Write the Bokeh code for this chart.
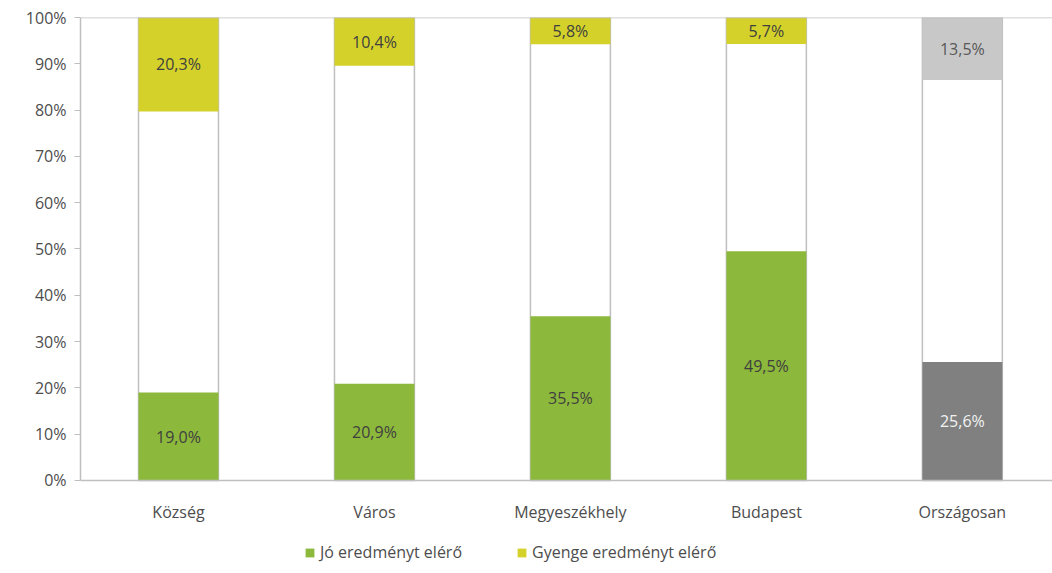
from bokeh.plotting import figure
from bokeh.models import ColumnDataSource, Range1d, NumeralTickFormatter, FixedTicker, Span, Legend, LegendItem
from bokeh.core.properties import value
from bokeh.embed import file_html
from bokeh.resources import INLINE

categories = ["Község", "Város", "Megyeszékhely", "Budapest", "Országosan"]
good = [19.0, 20.9, 35.5, 49.5, 25.6]
weak = [20.3, 10.4, 5.8, 5.7, 13.5]
series_names = ["Jó eredményt elérő", "Gyenge eredményt elérő"]

good_colors = ["#8cb83c", "#8cb83c", "#8cb83c", "#8cb83c", "#808080"]
weak_colors = ["#d4d12a", "#d4d12a", "#d4d12a", "#d4d12a", "#c8c8c8"]
good_text_colors = ["#3f3f3f", "#3f3f3f", "#3f3f3f", "#3f3f3f", "#f2f2f2"]
weak_text_colors = ["#3f3f3f", "#3f3f3f", "#3f3f3f", "#3f3f3f", "#595959"]

def fmt(v):
    return f"{v:.1f}".replace(".", ",") + "%"

xpos = list(range(len(categories)))
g = [v / 100 for v in good]
w = [v / 100 for v in weak]
src = ColumnDataSource(dict(
    x=xpos,
    cat=categories,
    g0=[0.0] * 5,
    g1=g,
    w0=[1 - x for x in w],
    w1=[1.0] * 5,
    gmid=[x / 2 for x in g],
    wmid=[1 - x / 2 for x in w],
    glab=[fmt(v) for v in good],
    wlab=[fmt(v) for v in weak],
    gcol=good_colors,
    wcol=weak_colors,
    gtc=good_text_colors,
    wtc=weak_text_colors,
))

FONT = "Open Sans"
FS = "16px"
AXIS_GRAY = "#bfbfbf"
LABEL_GRAY = "#4d4d4d"

# frame extends below 0 so the legend can sit under the category labels
p = figure(x_range=Range1d(-0.5, 4.46), y_range=Range1d(-0.1836, 1),
           width=1052, height=567, frame_width=972, frame_height=548,
           output_backend="svg", toolbar_location=None,
           min_border_left=80, min_border_right=0, min_border_top=17, min_border_bottom=2)
p.outline_line_color = None
p.xgrid.grid_line_color = None
p.ygrid.grid_line_color = None
p.xaxis.visible = False

bw = 0.408
p.vbar(x="x", bottom=0, top=1, width=bw, source=src, fill_color="white",
       line_color=AXIS_GRAY, line_width=1.5)
rg = p.vbar(x="x", bottom="g0", top="g1", width=bw, source=src, fill_color="gcol", line_color=None)
rw = p.vbar(x="x", bottom="w0", top="w1", width=bw, source=src, fill_color="wcol", line_color=None)

p.add_layout(Span(location=1, dimension="width", line_color=AXIS_GRAY, line_width=1.5))
p.add_layout(Span(location=0, dimension="width", line_color=AXIS_GRAY, line_width=1.5))

p.text(x="x", y="gmid", text="glab", source=src, text_align="center", text_baseline="middle",
       text_font=value(FONT), text_font_size=FS, text_color="gtc")
p.text(x="x", y="wmid", text="wlab", source=src, text_align="center", text_baseline="middle",
       text_font=value(FONT), text_font_size=FS, text_color="wtc")
# category labels under the 0% line
p.text(x="x", y=-0.069, text="cat", source=src, text_align="center", text_baseline="middle",
       text_font=value(FONT), text_font_size=FS, text_color=LABEL_GRAY)

ya = p.yaxis[0]
ya.ticker = FixedTicker(ticks=[i / 10 for i in range(11)])
ya.formatter = NumeralTickFormatter(format="0%")
ya.bounds = (0, 1)
ya.axis_line_color = AXIS_GRAY
ya.axis_line_width = 1.5
ya.major_label_text_font = FONT
ya.major_label_text_font_size = FS
ya.major_label_text_color = LABEL_GRAY
ya.minor_tick_line_color = None
ya.major_tick_line_color = AXIS_GRAY
ya.major_tick_out = 6
ya.major_tick_in = 0
ya.major_label_standoff = 8

legend = Legend(items=[LegendItem(label=series_names[0], renderers=[rg], index=0),
                       LegendItem(label=series_names[1], renderers=[rw], index=0)],
                orientation="horizontal", location=(224, 2),
                border_line_color=None, background_fill_alpha=0,
                label_text_font=FONT, label_text_font_size=FS, label_text_color=LABEL_GRAY,
                glyph_width=11, glyph_height=11, spacing=54, label_standoff=5,
                margin=0, padding=2)
p.add_layout(legend, "center")

open("out.html", "w").write(file_html(p, INLINE))
